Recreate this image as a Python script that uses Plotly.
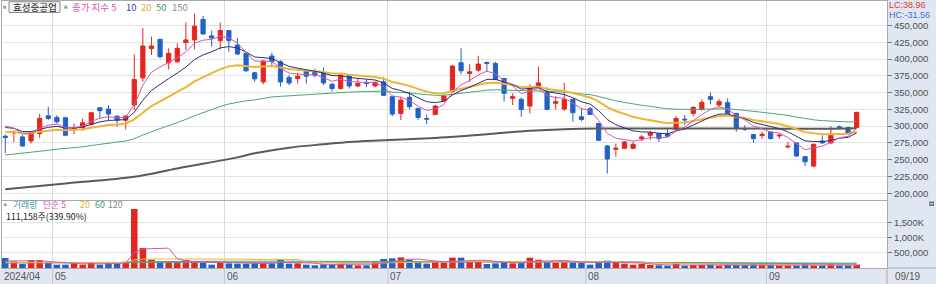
import plotly.graph_objects as go

# ---------------- data ----------------
day_index = list(range(100))
month_start_index = [6, 26, 45, 68, 89]
month_labels = ["05", "06", "07", "08", "09"]
first_label = "2024/04"
last_label = "09/19"

opens = [285000, 290000, 284000, 278000, 289000, 315500, 313000, 312500, 295500, 298000,
         303000, 327500, 325500, 315000, 309000, 331500, 372000, 415500, 429500, 394500,
         396000, 424500, 428500, 459000, 434500, 427500, 442500, 421000, 408500, 379500,
         366000, 404500, 396000, 372500, 371000, 382500, 380500, 378500, 362500, 356000,
         376000, 360000, 364500, 360000, 366000, 344000, 319000, 343000, 326500, 311500,
         317500, 338000, 351500, 394500, 378500, 383500, 395000, 393500, 371000, 341500,
         340000, 330000, 358000, 350000, 334000, 325500, 340000, 314000, 326000, 304000,
         270500, 265500, 267000, 267000, 281500, 286500, 289000, 289000, 295000, 310500,
         319000, 325000, 344000, 331500, 335000, 319000, 296500, 287500, 286000, 291500,
         285500, 269000, 275000, 254500, 240500, 278000, 275000, 299000, 298000, 298000]
highs = [288000, 294000, 286500, 291500, 318000, 329000, 316500, 314000, 304000, 311500,
         321500, 328000, 331500, 315000, 316500, 407000, 446000, 433500, 429500, 416000,
         423500, 454500, 468000, 464500, 442500, 454500, 442500, 431000, 409500, 381000,
         398500, 409500, 398500, 376000, 379500, 384500, 385500, 387500, 364500, 377500,
         377500, 371000, 369500, 366000, 373500, 345000, 344000, 351500, 327500, 317500,
         331500, 346500, 391000, 416000, 392500, 404500, 396000, 396000, 372000, 349000,
         343000, 362500, 388500, 358000, 345000, 364500, 341000, 326500, 329000, 305000,
         272000, 274000, 278000, 276500, 286500, 293000, 290000, 296500, 315000, 316500,
         330000, 340000, 350000, 340500, 341500, 320000, 301500, 288000, 291500, 291500,
         289000, 276500, 275500, 255500, 274000, 286500, 300000, 301000, 299000, 321500]
lows = [259500, 276500, 269500, 274000, 282500, 309000, 304000, 285000, 288000, 293000,
        301500, 311500, 309000, 299000, 295000, 324000, 366000, 406000, 401000, 384500,
        394500, 413500, 414500, 436000, 418500, 414500, 411000, 406000, 381000, 366000,
        362500, 388500, 359000, 361000, 363500, 363500, 372500, 361000, 351500, 355000,
        356000, 358000, 358000, 358000, 345000, 315000, 309000, 325000, 309000, 303000,
        316500, 336500, 350000, 377500, 366000, 381000, 381000, 368500, 336500, 331500,
        314000, 319000, 356500, 324000, 325000, 323000, 306500, 307500, 316500, 278000,
        229500, 254500, 266500, 265500, 277500, 279000, 276500, 284000, 293000, 301500,
        315000, 323000, 332500, 328000, 318000, 291500, 293000, 275000, 281500, 280000,
        281500, 267000, 254500, 240500, 238500, 274000, 274000, 295000, 288000, 298000]
closes = [283000, 291500, 270500, 290500, 311500, 311500, 306500, 286500, 298000, 305000,
          320000, 323000, 318000, 309000, 315000, 369500, 419500, 419500, 403500, 408500,
          416000, 428500, 449000, 437500, 431500, 442500, 427500, 407500, 382500, 370500,
          397000, 396000, 366000, 364500, 374500, 374500, 376000, 364500, 356000, 376000,
          360000, 363500, 363500, 365500, 346000, 318000, 339000, 329000, 313000, 310500,
          330000, 345000, 389500, 382500, 381000, 392500, 393500, 369500, 349000, 344000,
          325000, 358000, 364500, 325000, 336500, 340000, 320000, 310000, 317500, 279000,
          251000, 267000, 276500, 273000, 284000, 290000, 281500, 285000, 311500, 309500,
          328000, 335500, 340000, 336500, 319000, 298000, 295500, 281500, 288000, 281500,
          286500, 270000, 255500, 247000, 273000, 275000, 288000, 296500, 289000, 320500]
volumes = [329000, 219000, 132000, 263000, 263000, 186000, 110000, 110000, 164000, 110000,
           175000, 110000, 197000, 132000, 208000, 1940000, 658000, 274000, 186000, 208000,
           208000, 263000, 197000, 208000, 110000, 164000, 153000, 143000, 143000, 164000,
           164000, 153000, 285000, 143000, 153000, 110000, 88000, 121000, 110000, 143000,
           110000, 88000, 88000, 208000, 296000, 318000, 351000, 274000, 230000, 143000,
           197000, 164000, 340000, 340000, 219000, 219000, 132000, 153000, 230000, 153000,
           164000, 340000, 274000, 219000, 164000, 241000, 208000, 164000, 110000, 208000,
           241000, 164000, 143000, 110000, 132000, 99000, 88000, 77000, 143000, 77000,
           99000, 99000, 110000, 77000, 99000, 99000, 99000, 132000, 110000, 110000,
           88000, 88000, 88000, 132000, 88000, 88000, 132000, 88000, 88000, 111158]

ema5 = [300000, 297200, 288300, 289000, 296500, 301500, 303200, 297600, 297700, 300100,
        306700, 312100, 314100, 312400, 313300, 332000, 361200, 380600, 388200, 395000,
        402000, 410800, 423500, 428200, 429300, 433700, 431600, 423600, 409900, 396800,
        396900, 396600, 386400, 379100, 377600, 376600, 376400, 372400, 366900, 369900,
        366600, 365600, 364900, 365100, 358700, 345100, 343100, 338400, 329900, 323400,
        325600, 332100, 351200, 361600, 368100, 376200, 382000, 377800, 368200, 360100,
        348400, 351600, 355900, 345600, 342600, 341700, 334500, 326300, 323400, 308600,
        289400, 281900, 280100, 277700, 279800, 283200, 282600, 283400, 292800, 298400,
        308300, 317400, 324900, 328800, 325500, 316300, 309400, 300100, 296100, 291200,
        289600, 283100, 273900, 264900, 267600, 270100, 276100, 282900, 284900, 296800]
ema10 = [298000, 296800, 292000, 291800, 295400, 298200, 299700, 297300, 297400, 298800,
         302700, 306400, 308500, 308600, 309800, 320700, 338700, 353400, 362500, 370900,
         379100, 388100, 399200, 406200, 410800, 416600, 418600, 416600, 410400, 403100,
         402000, 400900, 394600, 389100, 386400, 384200, 382700, 379400, 375200, 375300,
         372500, 370900, 369500, 368800, 364700, 356200, 353100, 348700, 342200, 336400,
         335200, 337000, 346500, 353000, 358100, 364400, 369700, 369700, 365900, 361900,
         355200, 355700, 357300, 351400, 348700, 347100, 342200, 336300, 332900, 323100,
         310000, 302200, 297500, 293000, 291400, 291100, 289400, 288600, 292800, 295800,
         301700, 307800, 313700, 317900, 318100, 314400, 311000, 305600, 302400, 298600,
         296400, 291600, 285000, 278100, 277200, 276800, 278800, 282000, 283300, 290100]
ema20 = [291500, 291500, 289500, 289600, 291700, 293600, 294800, 294000, 294400, 295400,
         297700, 300100, 301800, 302500, 303700, 310200, 320600, 330000, 337000, 343800,
         350700, 358100, 366800, 373500, 379000, 385000, 389100, 390900, 390100, 388200,
         389000, 389700, 387400, 385200, 384200, 383300, 382600, 380900, 378500, 378300,
         376600, 375300, 374200, 373400, 370800, 365800, 363200, 360000, 355500, 351200,
         349200, 348800, 352700, 355500, 357900, 361200, 364300, 364800, 363300, 361500,
         358000, 358000, 358600, 355400, 353600, 352300, 349200, 345500, 342800, 336700,
         328500, 322600, 318200, 313900, 311100, 309100, 306500, 304500, 305200, 305600,
         307700, 310300, 313100, 315300, 315700, 314000, 312200, 309300, 307300, 304800,
         303100, 299900, 295700, 291100, 289400, 288000, 288000, 288800, 288800, 291800]
ema50 = [257000, 258400, 258900, 260100, 262100, 264000, 265700, 266500, 267700, 269200,
         271200, 273200, 275000, 276300, 277800, 281400, 286800, 292000, 296400, 300800,
         305300, 310100, 315500, 320300, 324700, 329300, 333100, 336000, 337800, 339100,
         341400, 343500, 344400, 345200, 346300, 347400, 348500, 349100, 349400, 350400,
         350800, 351300, 351800, 352300, 352100, 350800, 350300, 349500, 348100, 346600,
         346000, 346000, 347700, 349100, 350300, 352000, 353600, 354200, 354000, 353600,
         352500, 352700, 353100, 352000, 351400, 351000, 349800, 348200, 347000, 344300,
         340700, 337800, 335400, 333000, 331100, 329500, 327600, 325900, 325300, 324700,
         324800, 325200, 325800, 326200, 325900, 324800, 323700, 322000, 320700, 319200,
         317900, 316000, 313600, 311000, 309500, 308200, 307400, 307000, 306300, 306900]
ema150_idx = [0, 7, 15, 20, 27, 29, 33, 37, 40, 44, 50, 53, 57, 61, 65, 69, 75, 80, 85, 90, 95, 99]
ema150_val = [206000, 214500, 224500, 237000, 253500, 259500, 268000, 273000, 276500, 279000,
              282500, 285000, 289000, 293000, 295500, 296500, 296500, 296500, 296500, 296300,
              296300, 297000]

vol_ma5 = [230000, 230000, 220000, 230000, 241000, 213000, 191000, 186000, 167000, 136000,
           134000, 134000, 151000, 145000, 164000, 517000, 627000, 642000, 653000, 653000,
           307000, 228000, 212000, 217000, 197000, 188000, 166000, 156000, 143000, 153000,
           153000, 153000, 182000, 182000, 180000, 169000, 156000, 123000, 116000, 114000,
           114000, 114000, 108000, 127000, 158000, 200000, 252000, 289000, 294000, 263000,
           239000, 202000, 215000, 237000, 252000, 256000, 250000, 213000, 191000, 177000,
           166000, 208000, 232000, 230000, 232000, 248000, 221000, 199000, 177000, 186000,
           186000, 177000, 173000, 173000, 158000, 130000, 114000, 101000, 108000, 97000,
           97000, 99000, 106000, 92000, 97000, 97000, 97000, 101000, 108000, 110000,
           108000, 106000, 97000, 101000, 97000, 97000, 106000, 106000, 97000, 101000]
vol_ma20_idx = [0, 14, 15, 16, 20, 25, 30, 34, 35, 40, 44, 47, 50, 55, 60, 65, 68, 72, 76, 80, 85, 90, 95, 99]
vol_ma20_val = [186000, 180000, 268000, 292000, 300000, 290000, 285000, 280000, 190000, 150000,
                165000, 190000, 200000, 215000, 210000, 215000, 200000, 190000, 165000, 130000,
                110000, 100000, 100000, 100000]
vol_ma60_idx = [0, 14, 15, 30, 45, 60, 74, 75, 85, 99]
vol_ma60_val = [175000, 180000, 210000, 225000, 215000, 210000, 200000, 170000, 150000, 135000]
vol_ma120_idx = [0, 15, 40, 60, 80, 99]
vol_ma120_val = [165000, 180000, 190000, 195000, 185000, 160000]

price_ticks = [200000, 225000, 250000, 275000, 300000, 325000, 350000, 375000, 400000, 425000, 450000]
price_tick_text = ["200,000", "225,000", "250,000", "275,000", "300,000", "325,000",
                   "350,000", "375,000", "400,000", "425,000", "450,000"]
vol_ticks = [500000, 1000000, 1500000]
vol_tick_text = ["500,000", "1,000K", "1,500K"]

stock_name = "효성중공업"
price_legend = ["종가 지수 5", "10", "20", "50", "150"]
vol_legend = ["거래량", "단순 5", "20", "60", "120"]
vol_last_text = "111,158주(339.90%)"
lc_text = "LC:38.96"
hc_text = "HC:-31.56"

# ---------------- style ----------------
W, H = 936, 284
ML, MR, MT, MB = 2, 49, 1, 16
PW = W - ML - MR
PH = H - MT - MB

RED = "#e4261e"
BLUE = "#2262c6"
C5 = "#d456b4"
C10 = "#2e2e74"
C20 = "#f0b436"
C50 = "#4aa676"
C150 = "#5a5a5a"
GRID = "#e3e3e3"
FRAME = "#a9a9a9"
STRIP = "#e0e7f2"
SANS = "Liberation Sans, Arial, sans-serif"
KR = "Noto Sans CJK KR, Noto Sans, sans-serif"


def px_x(p):
    return (p - ML) / PW


def px_y(p):
    return (H - MB - p) / PH


fig = go.Figure()

# price EMAs
ema_specs = [(ema150_idx, ema150_val, C150, 2, "spline"),
             (day_index, ema50, C50, 1, "linear"),
             (day_index, ema20, C20, 2, "linear"),
             (day_index, ema10, C10, 1, "linear"),
             (day_index, ema5, C5, 1, "linear")]
for xs, ys, col, wd, shp in ema_specs:
    fig.add_trace(go.Scatter(x=xs, y=ys, mode="lines", xaxis="x", yaxis="y",
                             line=dict(color=col, width=wd, shape=shp), hoverinfo="skip"))

fig.add_trace(go.Candlestick(
    x=day_index, open=opens, high=highs, low=lows, close=closes,
    xaxis="x", yaxis="y", whiskerwidth=0,
    increasing=dict(line=dict(color=RED, width=1), fillcolor=RED),
    decreasing=dict(line=dict(color=BLUE, width=1), fillcolor=BLUE),
    hoverinfo="skip"))

vol_colors = [RED if c >= o else BLUE for o, c in zip(opens, closes)]
fig.add_trace(go.Bar(x=day_index, y=volumes, xaxis="x2", yaxis="y2", width=0.76,
                     marker=dict(color=vol_colors, line=dict(width=0)), hoverinfo="skip"))

for xs, ys, col, wd in [(vol_ma120_idx, vol_ma120_val, "#8a8a8a", 1),
                        (vol_ma60_idx, vol_ma60_val, C50, 1),
                        (vol_ma20_idx, vol_ma20_val, C20, 1),
                        (day_index, vol_ma5, C5, 1)]:
    fig.add_trace(go.Scatter(x=xs, y=ys, mode="lines", xaxis="x2", yaxis="y2",
                             line=dict(color=col, width=wd), hoverinfo="skip"))

bounds = [m - 0.5 for m in month_start_index]
xr = [-0.38, -0.38 + PW / 8.6]

common_x = dict(range=xr, showticklabels=False, tickvals=bounds, ticks="", showgrid=True,
                gridcolor="#dcdcdc", gridwidth=1, zeroline=False, showline=True,
                linecolor=FRAME, mirror=True, fixedrange=True)

price_top = 450000 + (25.5 - MT) * 1490
price_bot = 450000 - (199.5 - 25.5) * 1490
vol_dom_top = px_y(200.5)
vol_top = (268 - 200.5) * 32895

tickfont = dict(family=SANS, size=9.5, color="#505050")
fig.update_layout(
    width=W, height=H, margin=dict(l=ML, r=MR, t=MT, b=MB),
    paper_bgcolor="white", plot_bgcolor="white", showlegend=False, hovermode=False,
    font=dict(family=SANS, size=10, color="#555"),
    xaxis=dict(anchor="y", rangeslider=dict(visible=False), **common_x),
    xaxis2=dict(anchor="y2", matches="x", **common_x),
    yaxis=dict(domain=[px_y(199.5), 1], range=[price_bot, price_top], side="right",
               tickvals=price_ticks, ticktext=price_tick_text, ticks="outside", ticklen=4,
               tickcolor="#777", tickfont=tickfont,
               showgrid=True, gridcolor=GRID, zeroline=False, showline=True,
               linecolor=FRAME, mirror=True, fixedrange=True),
    yaxis2=dict(domain=[0, vol_dom_top], range=[0, vol_top], side="right",
                tickvals=vol_ticks, ticktext=vol_tick_text, ticks="outside", ticklen=4,
                tickcolor="#777", tickfont=tickfont,
                showgrid=True, gridcolor=GRID, zeroline=False, showline=True,
                linecolor=FRAME, mirror=True, fixedrange=True),
)

shapes = []
# right and bottom strips
shapes.append(dict(type="rect", xref="paper", yref="paper", x0=1, x1=px_x(W + 2), y0=px_y(H + 2), y1=px_y(-2),
                   fillcolor=STRIP, line=dict(width=0), layer="below"))
shapes.append(dict(type="rect", xref="paper", yref="paper", x0=px_x(0), x1=1, y0=px_y(H + 2), y1=0,
                   fillcolor=STRIP, line=dict(width=0), layer="below"))
shapes.append(dict(type="line", xref="paper", yref="paper", x0=1, x1=px_x(W + 2), y0=0, y1=0,
                   line=dict(color=FRAME, width=1)))
shapes.append(dict(type="line", xref="paper", yref="paper", x0=1, x1=1, y0=px_y(H + 2), y1=0,
                   line=dict(color=FRAME, width=1)))
for b in bounds:
    shapes.append(dict(type="line", xref="x2", yref="paper", x0=b, x1=b, y0=px_y(H + 2), y1=0,
                       line=dict(color="#c4c8d2", width=1)))
# legend boxes / icons
shapes.append(dict(type="rect", xref="paper", yref="paper", x0=px_x(3.3), x1=px_x(6), y0=px_y(8.7), y1=px_y(5.7),
                   fillcolor="#9a9a9a", line=dict(width=0)))
shapes.append(dict(type="rect", xref="paper", yref="paper", x0=px_x(9), x1=px_x(60), y0=px_y(12.5), y1=px_y(1.7),
                   fillcolor="#f2f2f2", line=dict(color="#8c8c8c", width=1)))
shapes.append(dict(type="rect", xref="paper", yref="paper", x0=px_x(64.3), x1=px_x(67.3), y0=px_y(8.7), y1=px_y(5.7),
                   fillcolor="#9a9a9a", line=dict(width=0)))
shapes.append(dict(type="rect", xref="paper", yref="paper", x0=px_x(4), x1=px_x(6.7), y0=px_y(206.2), y1=px_y(203.5),
                   fillcolor="#9a9a9a", line=dict(width=0)))
shapes.append(dict(type="rect", xref="paper", yref="paper", x0=px_x(929.3), x1=px_x(934), y0=px_y(206), y1=px_y(201.5),
                   fillcolor="#6e6e6e", line=dict(width=0)))
shapes.append(dict(type="line", xref="paper", yref="paper", x0=px_x(930.3), x1=px_x(933), y0=px_y(203.8), y1=px_y(203.8),
                   line=dict(color="white", width=1)))
fig.update_layout(shapes=shapes)


def ann(text, xp, yp, color, size, family, xanchor="left"):
    return dict(text=text, x=px_x(xp), y=px_y(yp), xref="paper", yref="paper", xanchor=xanchor,
                yanchor="middle", showarrow=False, font=dict(color=color, size=size, family=family),
                borderpad=0)


anns = []
anns.append(ann(stock_name, 34.5, 7.3, "#222", 9.5, KR, "center"))
pcols = [C5, "#3a3aa0", "#e2b030", "#3a9a5e", "#8a8a8a"]
pxs = [71, 124.5, 139.5, 155, 170.5]
for t, c, xp in zip(price_legend, pcols, pxs):
    anns.append(ann(t, xp, 7.3, c, 9.5, KR))
vcols = ["#3c9aa0", C5, "#e2b030", "#3a9a5e", "#8a8a8a"]
vxs = [12, 41.5, 79, 94, 107]
for t, c, xp in zip(vol_legend, vcols, vxs):
    anns.append(ann(t, xp, 204.6, c, 8.8, KR))
anns.append(ann(vol_last_text, 5, 216.8, "#222", 8.8, KR))
anns.append(ann(lc_text, 888, 5, "#e03a3a", 9, SANS))
anns.append(ann(hc_text, 888, 14.6, "#4a6ad6", 9, SANS))
anns.append(ann(first_label, 3, 276.5, "#555", 10, SANS))
anns.append(ann(last_label, 894, 276.5, "#555", 10, SANS))
for b, lab in zip(bounds, month_labels):
    anns.append(dict(text=lab, x=b, xref="x2", y=px_y(276.5), yref="paper", xanchor="left",
                     yanchor="middle", xshift=1.5, showarrow=False, borderpad=0,
                     font=dict(color="#555", size=10, family=SANS)))
fig.update_layout(annotations=anns)

fig.write_html("out.html")
